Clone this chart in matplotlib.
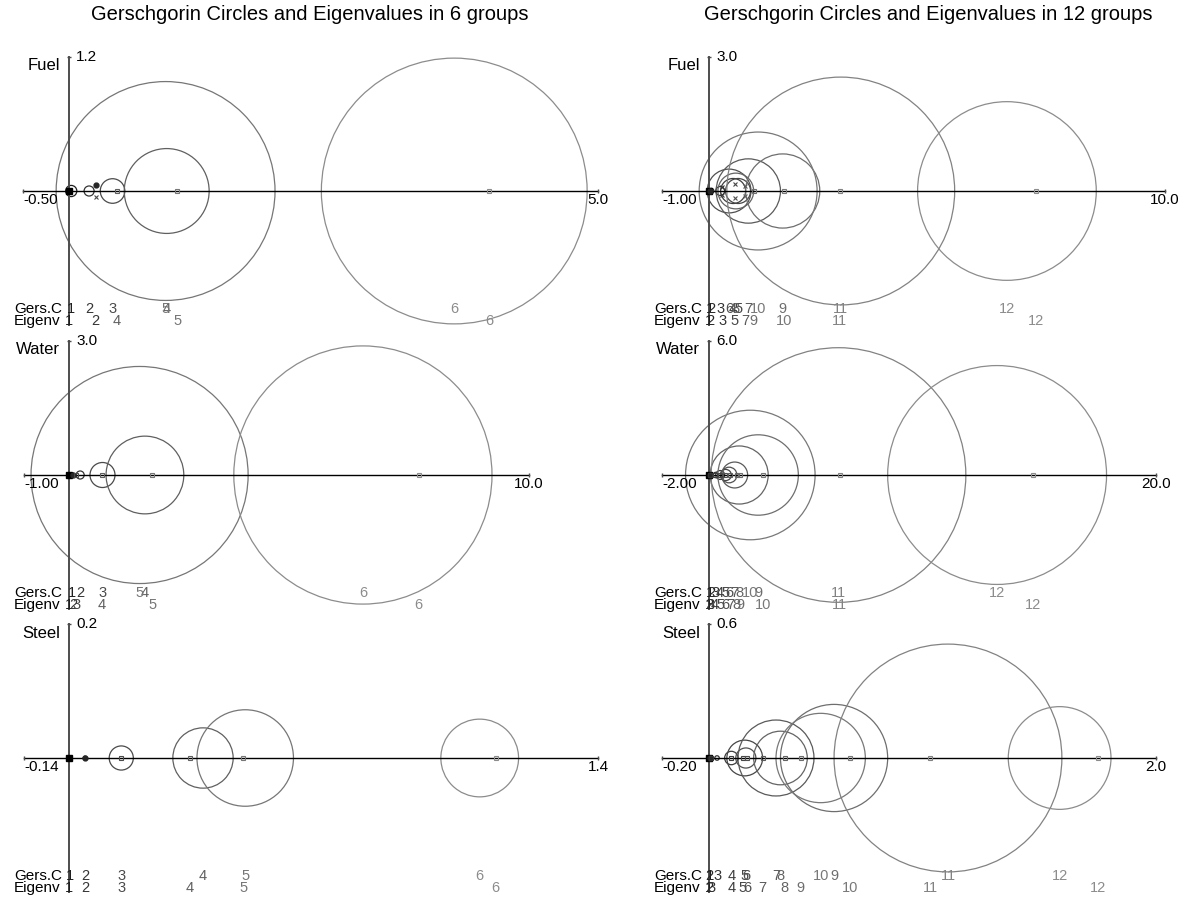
import matplotlib
matplotlib.use("Agg")
import matplotlib.pyplot as plt
from matplotlib.patches import Circle
import numpy as np

plt.rcParams['font.family'] = ['Liberation Sans', 'DejaVu Sans']

W, H = 1181, 901

titles = ["Gerschgorin Circles and Eigenvalues in 6 groups",
          "Gerschgorin Circles and Eigenvalues in 12 groups"]
rows = ["Fuel", "Water", "Steel"]

# ---- 6 groups ----
fuel6_centre = [0.02, 0.18, 0.39, 0.875, 0.865, 3.45]
fuel6_radius = [0.05, 0.045, 0.11, 0.38, 0.98, 1.19]
fuel6_eig_re = [0.0, 0.24, 0.24, 0.43, 0.97, 3.76]
fuel6_eig_im = [0.0, 0.055, -0.055, 0.0, 0.0, 0.0]

water6_centre = [0.07, 0.25, 0.75, 1.70, 1.58, 6.58]
water6_radius = [0.05, 0.09, 0.28, 0.87, 2.43, 2.89]
water6_eig_re = [0.0, 0.09, 0.16, 0.74, 1.86, 7.83]
water6_eig_im = [0.0, 0.0, 0.0, 0.0, 0.0, 0.0]

steel6_centre = [0.002, 0.024, 0.078, 0.20, 0.263, 0.613]
steel6_radius = [0.002, 0.003, 0.018, 0.045, 0.072, 0.058]
steel6_eig_re = [0.0, 0.024, 0.078, 0.18, 0.26, 0.637]
steel6_eig_im = [0.0, 0.0, 0.0, 0.0, 0.0, 0.0]

# ---- 12 groups ----
fuel12_centre = [0.02, 0.05, 0.25, 0.54, 0.65, 0.45, 0.88, 0.60, 1.65, 1.10, 2.95, 6.67]
fuel12_radius = [0.03, 0.06, 0.10, 0.28, 0.28, 0.49, 0.72, 0.40, 0.83, 1.32, 2.55, 2.0]
fuel12_eig_re = [0.0, 0.02, 0.30, 0.30, 0.58, 0.58, 0.81, 0.81, 1.0, 1.68, 2.93, 7.33]
fuel12_eig_im = [0.0, 0.0, 0.1, -0.1, 0.15, -0.15, 0.12, -0.12, 0.0, 0.0, 0.0, 0.0]

water12_centre = [0.02, 0.1, 0.3, 0.5, 0.75, 0.9, 1.15, 1.35, 2.2, 1.85, 5.8, 12.9]
water12_radius = [0.03, 0.05, 0.12, 0.2, 0.25, 0.35, 0.58, 1.3, 1.8, 2.9, 5.7, 4.9]
water12_eig_re = [0.0, 0.03, 0.05, 0.27, 0.5, 0.72, 0.95, 1.25, 1.4, 2.4, 5.85, 14.5]
water12_eig_im = [0.0] * 12

steel12_centre = [0.002, 0.0, 0.036, 0.10, 0.16, 0.165, 0.30, 0.32, 0.56, 0.50, 1.07, 1.57]
steel12_radius = [0.005, 0.005, 0.01, 0.03, 0.08, 0.045, 0.17, 0.12, 0.24, 0.20, 0.51, 0.23]
steel12_eig_re = [0.0, 0.003, 0.01, 0.10, 0.15, 0.17, 0.24, 0.34, 0.41, 0.63, 0.99, 1.74]
steel12_eig_im = [0.0] * 12

# axis extents and their printed end values
ymax_vals = [[1.2, 3.0], [3.0, 6.0], [0.2, 0.6]]
ymax_text = [["1.2", "3.0"], ["3.0", "6.0"], ["0.2", "0.6"]]
x_lo_vals = [[-0.41, -1.05], [-1.0, -2.1], [-0.067, -0.21]]
x_hi_vals = [[4.74, 10.2], [10.3, 20.0], [0.79, 2.0]]
x_lo_text = [["-0.50", "-1.00"], ["-1.00", "-2.00"], ["-0.14", "-0.20"]]
x_hi_text = [["5.0", "10.0"], ["10.0", "20.0"], ["1.4", "2.0"]]

panels = [
    [(fuel6_centre, fuel6_radius, fuel6_eig_re, fuel6_eig_im),
     (fuel12_centre, fuel12_radius, fuel12_eig_re, fuel12_eig_im)],
    [(water6_centre, water6_radius, water6_eig_re, water6_eig_im),
     (water12_centre, water12_radius, water12_eig_re, water12_eig_im)],
    [(steel6_centre, steel6_radius, steel6_eig_re, steel6_eig_im),
     (steel12_centre, steel12_radius, steel12_eig_re, steel12_eig_im)],
]

# layout in pixels
col_x = [(0, 620), (620, W)]
row_y = [(28, 333), (333, 617), (617, H)]
origin_x = [69, 709]
origin_y = [191, 475, 758]
half_axis_px = 134.0


def note(ax, txt, x, y, dx, dy, **kw):
    # dx, dy in pixels; dy positive = downwards
    ax.annotate(txt, xy=(x, y), xytext=(dx * 0.72, -dy * 0.72),
                textcoords='offset points', annotation_clip=False, **kw)


fig = plt.figure(figsize=(W / 100, H / 100), dpi=100)
fig.patch.set_facecolor('white')

for r in range(3):
    for c in range(2):
        x0, x1 = col_x[c]
        y0, y1 = row_y[r]
        ox, oy = origin_x[c], origin_y[r]
        ymax = ymax_vals[r][c]
        s = half_axis_px / ymax
        ax = fig.add_axes([x0 / W, 1 - y1 / H, (x1 - x0) / W, (y1 - y0) / H])
        ax.set_xlim((x0 - ox) / s, (x1 - ox) / s)
        ax.set_ylim((oy - y1) / s, (oy - y0) / s)
        ax.axis('off')

        centre, radius, eig_re, eig_im = panels[r][c]
        n = len(centre)
        shades = np.linspace(0.12, 0.55, n)

        x_lo, x_hi = x_lo_vals[r][c], x_hi_vals[r][c]
        ax.plot([x_lo, x_hi], [0, 0], color='black', lw=1.0, clip_on=False)
        ax.plot([x_lo, x_hi], [0, 0], ls='none', marker='|', ms=3,
                color='0.3', clip_on=False)
        ax.plot([0, 0], [-ymax, ymax], color='0.3', lw=1.4, clip_on=False)
        ax.plot([0], [ymax], marker='_', ms=3, color='0.3', clip_on=False)

        for i in range(n):
            col = str(shades[i])
            ax.add_patch(Circle((centre[i], 0), radius[i], fill=False,
                                ec=col, lw=0.9, clip_on=False))
            note(ax, str(i + 1), centre[i], 0, 0, 118, ha='center',
                 va='center', color=col, fontsize=10.5)

        for i in range(n):
            col = str(shades[i])
            if i == 0:
                ax.plot(eig_re[i], eig_im[i], marker='s', ms=4.5, color='black',
                        clip_on=False)
            elif i == 1:
                ax.plot(eig_re[i], eig_im[i], marker='o', ms=3.5, color='0.15',
                        clip_on=False)
            elif eig_im[i] != 0:
                ax.plot(eig_re[i], eig_im[i], marker='x', ms=3, mew=0.8,
                        color=col, clip_on=False)
            else:
                ax.plot(eig_re[i], eig_im[i], marker='s', ms=3, mfc='none',
                        mew=0.8, color=col, clip_on=False)
            if eig_im[i] >= 0:
                note(ax, str(i + 1), eig_re[i], 0, 0, 130, ha='center',
                     va='center', color=col, fontsize=10.5)

        note(ax, 'Gers.C', 0, 0, -55, 118, ha='left', va='center', fontsize=11)
        note(ax, 'Eigenv', 0, 0, -55, 130, ha='left', va='center', fontsize=11)
        note(ax, rows[r], 0, 0, -9, -125, ha='right', va='center', fontsize=12)
        note(ax, ymax_text[r][c], 0, ymax, 7, 0, ha='left', va='center',
             fontsize=11)
        note(ax, x_lo_text[r][c], x_lo, 0, 0, 9, ha='left', va='center',
             fontsize=11)
        note(ax, x_hi_text[r][c], x_hi, 0, 0, 9, ha='center', va='center',
             fontsize=11)

fig.text(310 / W, 1 - 15 / H, titles[0], ha='center', va='center', fontsize=14.5)
fig.text(928 / W, 1 - 15 / H, titles[1], ha='center', va='center', fontsize=14.5)

fig.savefig('out.png', dpi=100, facecolor='white')
